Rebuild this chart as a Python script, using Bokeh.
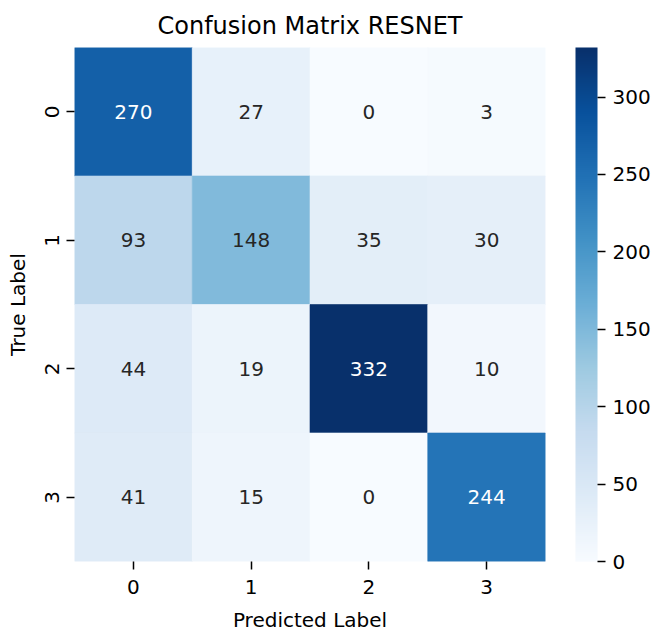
import numpy as np
from bokeh.plotting import figure
from bokeh.models import (ColumnDataSource, LinearColorMapper, ColorBar, FixedTicker,
                          LinearAxis, Range1d)
from bokeh.embed import file_html
from bokeh.resources import INLINE
from bokeh.core.properties import value

# ---- data ----
pred_labels = ["0", "1", "2", "3"]
true_labels = ["0", "1", "2", "3"]
row_true0 = [270, 27, 0, 3]
row_true1 = [93, 148, 35, 30]
row_true2 = [44, 19, 332, 10]
row_true3 = [41, 15, 0, 244]
cbar_ticks = [0, 50, 100, 150, 200, 250, 300]
title_text = "Confusion Matrix RESNET"
x_title = "Predicted Label"
y_title = "True Label"

rows = [row_true0, row_true1, row_true2, row_true3]
vmin = 0
vmax = max(max(r) for r in rows)

# matplotlib "Blues" (colorbrewer anchors, linear interpolation to 256)
blues_anchor = ["#f7fbff", "#deebf7", "#c6dbef", "#9ecae1", "#6baed6",
                "#4292c6", "#2171b5", "#08519c", "#08306b"]
anc = np.array([[int(h[i:i + 2], 16) for i in (1, 3, 5)] for h in blues_anchor], float)
pos = np.linspace(0, 1, len(blues_anchor))
tt = np.linspace(0, 1, 256)
pal_rgb = np.stack([np.interp(tt, pos, anc[:, k]) for k in range(3)], axis=1)
palette = ["#%02x%02x%02x" % tuple(int(round(c)) for c in rgb) for rgb in pal_rgb]


def rel_lum(rgb):
    c = np.array(rgb) / 255.0
    c = np.where(c <= 0.03928, c / 12.92, ((c + 0.055) / 1.055) ** 2.4)
    return 0.2126 * c[0] + 0.7152 * c[1] + 0.0722 * c[2]


xs, ys, vals, fills, tcols, txts = [], [], [], [], [], []
for i, tl in enumerate(true_labels):
    for j, pl in enumerate(pred_labels):
        v = rows[i][j]
        idx = int((v - vmin) / (vmax - vmin) * 256)
        idx = min(max(idx, 0), 255)
        xs.append(j + 0.5)
        ys.append(i + 0.5)
        vals.append(v)
        fills.append(palette[idx])
        tcols.append("#262626" if rel_lum(pal_rgb[idx]) > 0.408 else "#ffffff")
        txts.append(str(v))

src = ColumnDataSource(dict(x=xs, y=ys, v=vals, fill=fills, tc=tcols, t=txts))

FONT = "DejaVu Sans"
nx, ny = len(pred_labels), len(true_labels)

p = figure(x_range=Range1d(0, nx), y_range=Range1d(ny, 0),
           frame_width=471, frame_height=514,
           min_border_left=74, min_border_right=105, min_border_top=47, min_border_bottom=72,
           output_backend="svg", toolbar_location=None)

p.rect(x="x", y="y", width=1, height=1, source=src, fill_color="fill",
       line_color="fill", line_width=0.6)
p.text(x="x", y="y", text="t", source=src, text_color="tc",
       text_align="center", text_baseline="middle",
       text_font=value(FONT), text_font_size="20px")

p.title.text = title_text
p.title.align = "center"
p.title.text_font = FONT
p.title.text_font_size = "24px"
p.title.text_font_style = "normal"
p.title.text_color = "#000000"
p.title.standoff = 15

p.grid.visible = False
p.outline_line_color = None
p.background_fill_color = "white"
p.border_fill_color = "white"

p.xaxis.ticker = FixedTicker(ticks=[j + 0.5 for j in range(nx)])
p.xaxis.major_label_overrides = {j + 0.5: lab for j, lab in enumerate(pred_labels)}
p.yaxis.ticker = FixedTicker(ticks=[i + 0.5 for i in range(ny)])
p.yaxis.major_label_overrides = {i + 0.5: lab for i, lab in enumerate(true_labels)}

for ax in (p.xaxis[0], p.yaxis[0]):
    ax.axis_line_color = None
    ax.major_tick_in = 0
    ax.major_tick_out = 8
    ax.minor_tick_line_color = None
    ax.major_tick_line_color = "#000000"
    ax.major_tick_line_width = 1.5
    ax.major_label_text_font = FONT
    ax.major_label_text_font_size = "20px"
    ax.major_label_text_color = "#000000"
    ax.axis_label_text_font = FONT
    ax.axis_label_text_font_size = "20px"
    ax.axis_label_text_font_style = "normal"
    ax.axis_label_text_color = "#000000"

p.xaxis.major_label_standoff = 10
p.xaxis.axis_label_standoff = 11
p.yaxis.major_label_standoff = 8
p.yaxis.axis_label_standoff = 12

p.xaxis.axis_label = x_title
p.yaxis.axis_label = y_title
p.yaxis.major_label_orientation = "vertical"

# invisible spacer axis to push the colour bar away from the heatmap
p.extra_y_ranges = {"cbpad": Range1d(0, 1)}
pad_axis = LinearAxis(y_range_name="cbpad", ticker=FixedTicker(ticks=[0.5]),
                      axis_line_color=None, major_tick_out=30, major_tick_in=0,
                      major_tick_line_color=None, minor_tick_line_color=None,
                      major_label_text_color=None, major_label_text_font_size="1px",
                      major_label_standoff=0)
p.add_layout(pad_axis, "right")

mapper = LinearColorMapper(palette=palette, low=vmin, high=vmax)
cb = ColorBar(color_mapper=mapper, ticker=FixedTicker(ticks=cbar_ticks),
              width=22, height=514, margin=0, padding=0,
              bar_line_color=None, border_line_color=None,
              major_tick_in=0, major_tick_out=8, major_tick_line_color="#000000",
              major_tick_line_width=1.5, minor_tick_line_color=None,
              major_label_text_font=FONT, major_label_text_font_size="20px",
              major_label_text_color="#000000", label_standoff=7,
              background_fill_color="white")
p.add_layout(cb, "right")

open("out.html", "w").write(file_html(p, INLINE))
